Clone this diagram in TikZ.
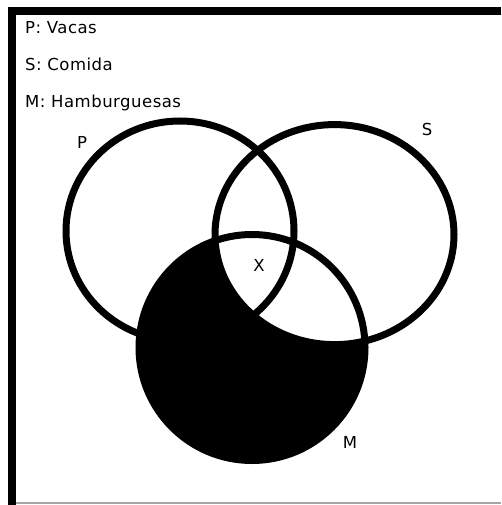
\documentclass[tikz,border=0pt]{standalone}
\usepackage{fontspec}
\usepackage{xcolor}
\usepackage{tikz}
\usetikzlibrary{positioning,calc}
\newfontfamily\vennfont[LetterSpace=3]{DejaVu Sans}
\tikzset{
  vennlabel/.style={font=\vennfont\fontsize{16.5}{19}\selectfont,text=black,inner sep=0pt},
  vennline/.style={line width=7pt,black}
}
\begin{document}
\begin{tikzpicture}[x=1pt,y=-1pt]
  \useasboundingbox (0,0) rectangle (501,505);
  \fill[white] (0,0) rectangle (501,505);
  % frame
  \fill[black] (8,7) rectangle (16,505);
  \fill[black] (8,7) rectangle (501,15);
  \draw[gray!70,line width=1.5pt] (16,503) -- (501,503);
  % legend
  \node[vennlabel,anchor=base west] (legP) at (25,34) {P: Vacas};
  \node[vennlabel,anchor=base west] (legS) at (25,71) {S: Comida};
  \node[vennlabel,anchor=base west] (legM) at (25,108) {M: Hamburguesas};
  % sets
  \coordinate (cP) at (180,231);
  \coordinate (cS) at (334.5,234.6);
  \coordinate (cM) at (252,347.5);
  \fill[black] (cM) circle (113);
  \begin{scope}
    \clip (cM) circle (113);
    \fill[white] (cS) ellipse [x radius=119.5,y radius=110];
  \end{scope}
  \draw[vennline] (cP) ellipse [x radius=114,y radius=110];
  \draw[vennline] (cS) ellipse [x radius=119.5,y radius=110];
  \draw[vennline] (cM) circle (113);
  % set labels
  \node[vennlabel] (labP) at (82,142) {P};
  \node[vennlabel] (labS) at (427,129) {S};
  \node[vennlabel] (labX) at (259,265) {X};
  \node[vennlabel] (labM) at (350,442) {M};
\end{tikzpicture}
\end{document}
